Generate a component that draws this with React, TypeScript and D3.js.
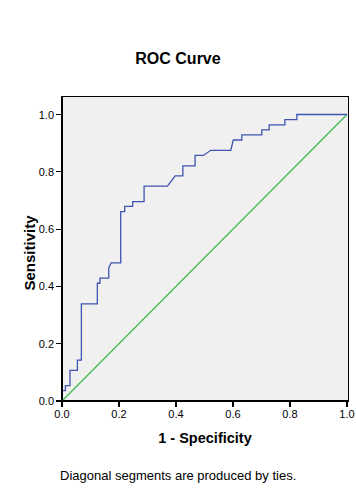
import React from "react";
import * as d3 from "d3";

// ROC curve vertices (1 - specificity, sensitivity)
const fpr = [0, 0, 0.012, 0.012, 0.028, 0.028, 0.054, 0.054, 0.068, 0.068, 0.124, 0.124, 0.133, 0.133, 0.164, 0.164, 0.172, 0.206, 0.206, 0.22, 0.22, 0.248, 0.248, 0.288, 0.288, 0.37, 0.397, 0.424, 0.424, 0.467, 0.467, 0.496, 0.522, 0.592, 0.601, 0.631, 0.631, 0.701, 0.701, 0.727, 0.727, 0.782, 0.782, 0.824, 0.824, 1];
const tpr = [0, 0.036, 0.036, 0.054, 0.054, 0.107, 0.107, 0.143, 0.143, 0.339, 0.339, 0.411, 0.411, 0.429, 0.429, 0.464, 0.482, 0.482, 0.661, 0.661, 0.679, 0.679, 0.696, 0.696, 0.75, 0.75, 0.786, 0.786, 0.821, 0.821, 0.857, 0.857, 0.875, 0.875, 0.911, 0.911, 0.929, 0.929, 0.946, 0.946, 0.964, 0.964, 0.982, 0.982, 1, 1];
const refX = [0, 1];
const refY = [0, 1];
const ticks = [0, 0.2, 0.4, 0.6, 0.8, 1.0];

const title = "ROC Curve";
const xTitle = "1 - Specificity";
const yTitle = "Sensitivity";
const footnote = "Diagonal segments are produced by ties.";

export default function App() {
  const W = 356, H = 502;
  const x = d3.scaleLinear().domain([0, 1]).range([62, 347]);
  const y = d3.scaleLinear().domain([0, 1]).range([401, 114.5]);
  const frame = { left: 62, right: 348, top: 96, bottom: 401 };
  const line = d3.line<[number, number]>().x(d => x(d[0])).y(d => y(d[1]));
  const curve = line(fpr.map((v, i) => [v, tpr[i]] as [number, number]))!;
  const diag = line(refX.map((v, i) => [v, refY[i]] as [number, number]))!;
  const font = "'Liberation Sans', Arial, sans-serif";
  return (
    <svg width={W} height={H} style={{ position: "absolute", left: 0, top: 0, background: "#fff" }} fontFamily={font}>
      <rect x={0} y={0} width={W} height={H} fill="#fff" />
      <text x={178} y={64} textAnchor="middle" fontSize={16} fontWeight="bold" fill="#000">{title}</text>
      <rect x={frame.left} y={frame.top} width={frame.right - frame.left} height={frame.bottom - frame.top} fill="#f0f0f0" stroke="#000" strokeWidth={1} shapeRendering="crispEdges" />
      <path d={diag} fill="none" stroke="#3fb94a" strokeWidth={1.2} />
      <path d={curve} fill="none" stroke="#3e55b0" strokeWidth={1.3} />
      <line x1={frame.left} x2={frame.left} y1={frame.top} y2={frame.bottom} stroke="#000" strokeWidth={1.5} shapeRendering="crispEdges" />
      <line x1={frame.left} x2={frame.right} y1={frame.bottom} y2={frame.bottom} stroke="#000" strokeWidth={1.5} shapeRendering="crispEdges" />
      {ticks.map(t => (
        <g key={"y" + t}>
          <line x1={56} x2={62} y1={y(t)} y2={y(t)} stroke="#000" strokeWidth={1.2} shapeRendering="crispEdges" />
          <text x={54} y={y(t) + 4} textAnchor="end" fontSize={11} fill="#000">{t.toFixed(1)}</text>
        </g>
      ))}
      {ticks.map(t => (
        <g key={"x" + t}>
          <line x1={x(t)} x2={x(t)} y1={401} y2={407} stroke="#000" strokeWidth={1.2} shapeRendering="crispEdges" />
          <text x={x(t)} y={418} textAnchor="middle" fontSize={11} fill="#000">{t.toFixed(1)}</text>
        </g>
      ))}
      <text x={205} y={443} textAnchor="middle" fontSize={14.5} fontWeight="bold" fill="#000">{xTitle}</text>
      <text transform={`translate(35,253) rotate(-90)`} textAnchor="middle" fontSize={15} fontWeight="bold" fill="#000">{yTitle}</text>
      <text x={60} y={480} fontSize={13} fill="#000">{footnote}</text>
    </svg>
  );
}
